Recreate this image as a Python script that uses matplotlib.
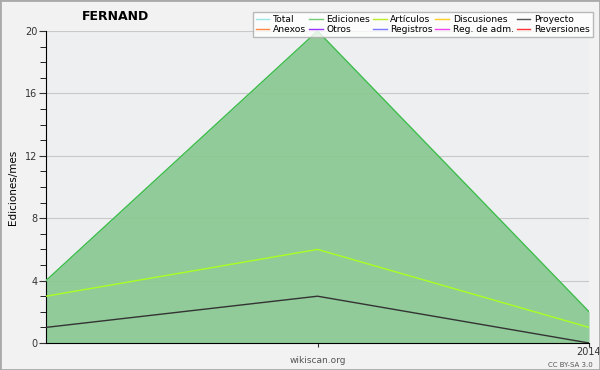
import matplotlib
matplotlib.use('Agg')
import matplotlib.pyplot as plt
from matplotlib.lines import Line2D

# datos del gráfico
meses = [0, 1, 2]
total = [4, 20, 2]
ediciones = [4, 20, 2]
articulos = [3, 6, 1]
proyecto = [1, 3, 0]

series_leyenda = ['Total', 'Anexos', 'Ediciones', 'Otros', 'Artículos', 'Registros',
                  'Discusiones', 'Reg. de adm.', 'Proyecto', 'Reversiones']
colores_leyenda = ['#99e6e6', '#ff8844', '#77cc77', '#9933ff', '#bbee22', '#7777ff',
                   '#ffcc22', '#ee44ee', '#555555', '#ff3333']

fig = plt.figure(figsize=(6, 3.7), dpi=100, facecolor='#f2f2f2')
ax = fig.add_axes([0.0767, 0.073, 0.905, 0.843])
ax.set_facecolor('#eeeff1')

ax.grid(axis='y', color='#c8c8c8', lw=0.8, zorder=1)
ax.fill_between(meses, 0, ediciones, color='#8ac992', alpha=0.93, lw=0, zorder=2)
ax.plot(meses, total, color='#99e6e6', lw=1, zorder=3)
ax.plot(meses, ediciones, color='#44bb44', lw=1, zorder=3)
ax.plot(meses, articulos, color='#aaff22', lw=1, zorder=4)
ax.plot(meses, proyecto, color='#333333', lw=1, zorder=4)

ax.set_xlim(0, 2)
ax.set_ylim(0, 20)
ax.set_yticks([0, 4, 8, 12, 16, 20])
ax.set_yticks([v for v in range(21) if v % 4 != 0], minor=True)
ax.set_xticks([1, 2])
ax.set_xticklabels(['', '2014'])
for lado in ['top', 'right']:
    ax.spines[lado].set_visible(False)
ax.tick_params(labelsize=7, colors='#333333', length=5, pad=1)
ax.tick_params(axis='x', length=3, pad=0)
ax.tick_params(which='minor', length=4)
ax.set_ylabel('Ediciones/mes', fontsize=7.5, labelpad=5)

manijas = [Line2D([], [], color=c, lw=1) for c in colores_leyenda]
leg = ax.legend(manijas, series_leyenda, ncol=5, fontsize=6.6, loc='upper right',
                bbox_to_anchor=(1.015, 1.075), frameon=True, fancybox=False,
                handlelength=1.5, handletextpad=0.4, columnspacing=0.3,
                labelspacing=0.1, borderpad=0.3)
leg.get_frame().set_edgecolor('#aaaaaa')
leg.get_frame().set_facecolor('white')
leg.set_zorder(10)

fig.text(0.192, 0.955, 'FERNAND', fontsize=9, fontweight='bold', ha='center', va='center')
fig.text(0.53, 0.027, 'wikiscan.org', fontsize=6.5, color='#555555', ha='center', va='center')
fig.text(0.95, 0.014, 'CC BY-SA 3.0', fontsize=5, color='#555555', ha='center', va='center')

borde = plt.Rectangle((0, 0), 1, 1, transform=fig.transFigure, fill=False,
                      edgecolor='#aaaaaa', lw=2)
fig.patches.append(borde)

plt.savefig('out.png', dpi=100, facecolor=fig.get_facecolor())
